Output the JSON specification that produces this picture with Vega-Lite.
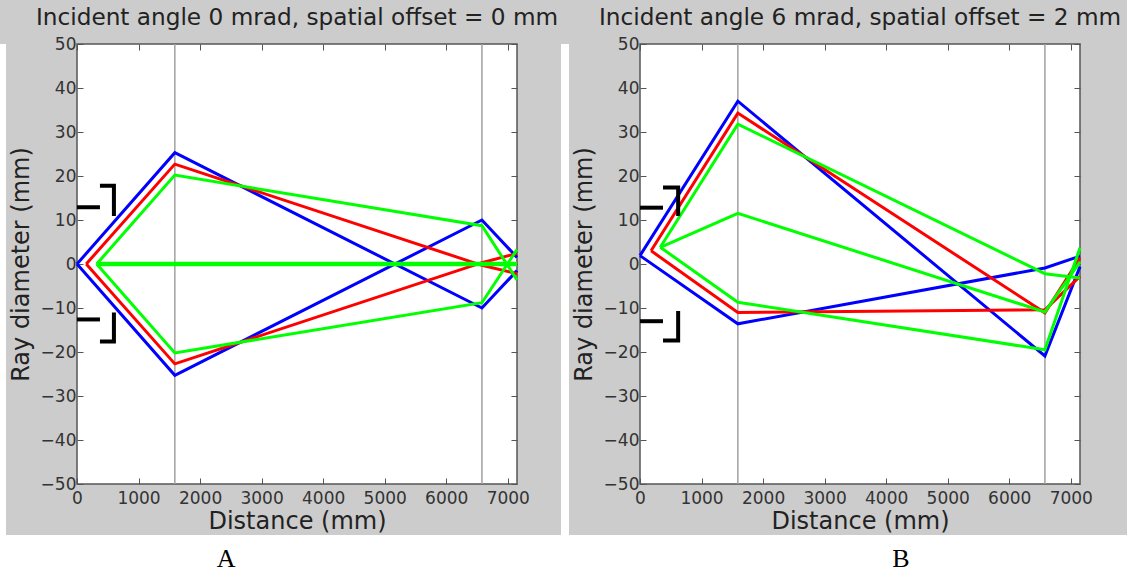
{
  "$schema": "https://vega.github.io/schema/vega-lite/v6.json",
  "background": "#cccccc",
  "padding": {"left": 0, "top": 5, "right": 0, "bottom": 0},
  "config": {
    "font": "DejaVu Sans",
    "axis": {
      "labelFont": "DejaVu Sans",
      "labelFontSize": 17,
      "labelColor": "#333333",
      "titleFont": "DejaVu Sans",
      "titleFontSize": 24,
      "titleFontWeight": "normal",
      "titleColor": "#222222",
      "tickColor": "#555555",
      "tickSize": -6,
      "tickWidth": 1,
      "domain": false,
      "grid": false,
      "labelFlush": false,
      "labelOverlap": false,
      "format": "d"
    },
    "axisLeft": {"labelPadding": 7, "titlePadding": 7},
    "axisBottom": {"labelPadding": 12, "titlePadding": 3},
    "title": {"font": "DejaVu Sans", "fontSize": 23.2, "fontWeight": "normal", "color": "#222222", "anchor": "middle", "frame": "group", "offset": 5}
  },
  "datasets": {
    "lenses": [{"x": 1590}, {"x": 6580}],
    "raysA": [
      {"ray": "blue_up", "color": "blue", "i": 0, "x": 0, "y": 0},
      {"ray": "blue_up", "color": "blue", "i": 1, "x": 1590, "y": 25.3},
      {"ray": "blue_up", "color": "blue", "i": 2, "x": 6580, "y": -10},
      {"ray": "blue_up", "color": "blue", "i": 3, "x": 7150, "y": -1.5},
      {"ray": "blue_dn", "color": "blue", "i": 0, "x": 0, "y": 0},
      {"ray": "blue_dn", "color": "blue", "i": 1, "x": 1590, "y": -25.3},
      {"ray": "blue_dn", "color": "blue", "i": 2, "x": 6580, "y": 10},
      {"ray": "blue_dn", "color": "blue", "i": 3, "x": 7150, "y": 1.5},
      {"ray": "red_up", "color": "red", "i": 0, "x": 150, "y": 0},
      {"ray": "red_up", "color": "red", "i": 1, "x": 1590, "y": 22.7},
      {"ray": "red_up", "color": "red", "i": 2, "x": 6580, "y": -0.3},
      {"ray": "red_up", "color": "red", "i": 3, "x": 7150, "y": -2.2},
      {"ray": "red_dn", "color": "red", "i": 0, "x": 150, "y": 0},
      {"ray": "red_dn", "color": "red", "i": 1, "x": 1590, "y": -22.7},
      {"ray": "red_dn", "color": "red", "i": 2, "x": 6580, "y": 0.3},
      {"ray": "red_dn", "color": "red", "i": 3, "x": 7150, "y": 2.4},
      {"ray": "green_up", "color": "green", "i": 0, "x": 320, "y": 0},
      {"ray": "green_up", "color": "green", "i": 1, "x": 1590, "y": 20.2},
      {"ray": "green_up", "color": "green", "i": 2, "x": 6580, "y": 8.7},
      {"ray": "green_up", "color": "green", "i": 3, "x": 7150, "y": -3.6},
      {"ray": "green_dn", "color": "green", "i": 0, "x": 320, "y": 0},
      {"ray": "green_dn", "color": "green", "i": 1, "x": 1590, "y": -20.2},
      {"ray": "green_dn", "color": "green", "i": 2, "x": 6580, "y": -8.8},
      {"ray": "green_dn", "color": "green", "i": 3, "x": 7150, "y": 3.3}
    ],
    "axialA": [
      {"ray": "green_axis", "i": 0, "x": 320, "y": 0},
      {"ray": "green_axis", "i": 1, "x": 7150, "y": 0}
    ],
    "raysB": [
      {"ray": "blue_up", "color": "blue", "i": 0, "x": 0, "y": 1.9},
      {"ray": "blue_up", "color": "blue", "i": 1, "x": 1590, "y": 37},
      {"ray": "blue_up", "color": "blue", "i": 2, "x": 6580, "y": -20.9},
      {"ray": "blue_up", "color": "blue", "i": 3, "x": 7150, "y": -0.6},
      {"ray": "blue_dn", "color": "blue", "i": 0, "x": 0, "y": 1.9},
      {"ray": "blue_dn", "color": "blue", "i": 1, "x": 1590, "y": -13.6},
      {"ray": "blue_dn", "color": "blue", "i": 2, "x": 6580, "y": -0.9},
      {"ray": "blue_dn", "color": "blue", "i": 3, "x": 7150, "y": 1.8},
      {"ray": "red_up", "color": "red", "i": 0, "x": 180, "y": 3},
      {"ray": "red_up", "color": "red", "i": 1, "x": 1590, "y": 34.3},
      {"ray": "red_up", "color": "red", "i": 2, "x": 6580, "y": -11.1},
      {"ray": "red_up", "color": "red", "i": 3, "x": 7150, "y": 1.4},
      {"ray": "red_dn", "color": "red", "i": 0, "x": 180, "y": 3},
      {"ray": "red_dn", "color": "red", "i": 1, "x": 1590, "y": -11},
      {"ray": "red_dn", "color": "red", "i": 2, "x": 6580, "y": -10.4},
      {"ray": "red_dn", "color": "red", "i": 3, "x": 7150, "y": -2.8},
      {"ray": "green_up", "color": "green", "i": 0, "x": 330, "y": 3.8},
      {"ray": "green_up", "color": "green", "i": 1, "x": 1590, "y": 31.8},
      {"ray": "green_up", "color": "green", "i": 2, "x": 6580, "y": -2.2},
      {"ray": "green_up", "color": "green", "i": 3, "x": 7150, "y": -3.2},
      {"ray": "green_mid", "color": "green", "i": 0, "x": 330, "y": 3.8},
      {"ray": "green_mid", "color": "green", "i": 1, "x": 1590, "y": 11.5},
      {"ray": "green_mid", "color": "green", "i": 2, "x": 6580, "y": -10.9},
      {"ray": "green_mid", "color": "green", "i": 3, "x": 7150, "y": 0.5},
      {"ray": "green_dn", "color": "green", "i": 0, "x": 330, "y": 3.8},
      {"ray": "green_dn", "color": "green", "i": 1, "x": 1590, "y": -8.7},
      {"ray": "green_dn", "color": "green", "i": 2, "x": 6580, "y": -19.5},
      {"ray": "green_dn", "color": "green", "i": 3, "x": 7150, "y": 3.7}
    ],
    "bracketsA": [
      {"part": "dash_up", "i": 0, "x": 0, "y": 12.9},
      {"part": "dash_up", "i": 1, "x": 373, "y": 12.9},
      {"part": "corner_up", "i": 0, "x": 373, "y": 17.8},
      {"part": "corner_up", "i": 1, "x": 600, "y": 17.8},
      {"part": "corner_up", "i": 2, "x": 600, "y": 10.9},
      {"part": "dash_dn", "i": 0, "x": 0, "y": -12.6},
      {"part": "dash_dn", "i": 1, "x": 373, "y": -12.6},
      {"part": "corner_dn", "i": 0, "x": 600, "y": -11},
      {"part": "corner_dn", "i": 1, "x": 600, "y": -17.6},
      {"part": "corner_dn", "i": 2, "x": 373, "y": -17.6}
    ],
    "bracketsB": [
      {"part": "dash_up", "i": 0, "x": 0, "y": 12.8},
      {"part": "dash_up", "i": 1, "x": 374, "y": 12.8},
      {"part": "corner_up", "i": 0, "x": 374, "y": 17.4},
      {"part": "corner_up", "i": 1, "x": 620, "y": 17.4},
      {"part": "corner_up", "i": 2, "x": 620, "y": 10.9},
      {"part": "dash_dn", "i": 0, "x": 0, "y": -13},
      {"part": "dash_dn", "i": 1, "x": 374, "y": -13},
      {"part": "corner_dn", "i": 0, "x": 620, "y": -10.7},
      {"part": "corner_dn", "i": 1, "x": 620, "y": -17.4},
      {"part": "corner_dn", "i": 2, "x": 374, "y": -17.4}
    ],
    "panelLabels": [{"panel": "A"}, {"panel": "B"}]
  },
  "spacing": 0,
  "vconcat": [
    {
      "spacing": 2,
      "hconcat": [
        {
          "width": 6,
          "height": 491,
          "view": {"fill": "white", "stroke": null},
          "data": {"values": [{}]},
          "mark": {"type": "point", "opacity": 0}
        },
        {
          "width": 440,
          "height": 440,
          "view": {"fill": "white", "stroke": "#555555", "strokeWidth": 1.5},
          "title": {"text": "Incident angle 0 mrad, spatial offset = 0 mm"},
          "layer": [
            {
              "data": {"name": "lenses"},
              "mark": {"type": "rule", "color": "#a0a0a0", "strokeWidth": 1.5},
              "encoding": {
                "x": {"field": "x", "type": "quantitative", "scale": {"domain": [0, 7150], "nice": false, "zero": false},
                  "axis": {"orient": "bottom", "values": [0, 1000, 2000, 3000, 4000, 5000, 6000, 7000], "title": "Distance (mm)"}}
              }
            },
            {
              "data": {"name": "raysA"},
              "mark": {"type": "line", "strokeWidth": 3},
              "encoding": {
                "x": {"field": "x", "type": "quantitative", "axis": null},
                "y": {"field": "y", "type": "quantitative", "scale": {"domain": [-50, 50], "nice": false},
                  "axis": {"orient": "left", "values": [-50, -40, -30, -20, -10, 0, 10, 20, 30, 40, 50], "title": "Ray diameter (mm)"}},
                "detail": {"field": "ray"},
                "color": {"field": "color", "type": "nominal", "scale": {"domain": ["blue", "red", "green"], "range": ["#0000ff", "#ff0000", "#00ff00"]}, "legend": null},
                "order": {"field": "i"}
              }
            },
            {
              "data": {"name": "axialA"},
              "mark": {"type": "line", "strokeWidth": 4.5, "color": "#00ff00"},
              "encoding": {
                "x": {"field": "x", "type": "quantitative", "axis": null},
                "y": {"field": "y", "type": "quantitative", "axis": null},
                "order": {"field": "i"}
              }
            },
            {
              "data": {"name": "bracketsA"},
              "mark": {"type": "line", "strokeWidth": 4, "color": "black", "strokeJoin": "miter", "strokeCap": "butt"},
              "encoding": {
                "x": {"field": "x", "type": "quantitative", "axis": null},
                "y": {"field": "y", "type": "quantitative", "axis": null},
                "detail": {"field": "part"},
                "order": {"field": "i"}
              }
            },
            {
              "data": {"name": "lenses"},
              "mark": {"type": "point", "opacity": 0},
              "encoding": {
                "x": {"field": "x", "type": "quantitative", "axis": {"orient": "top", "values": [0, 1000, 2000, 3000, 4000, 5000, 6000, 7000], "labels": false, "title": null}},
                "y": {"datum": 0, "type": "quantitative", "axis": {"orient": "right", "values": [-50, -40, -30, -20, -10, 0, 10, 20, 30, 40, 50], "labels": false, "title": null}}
              }
            }
          ],
          "resolve": {"axis": {"x": "independent", "y": "independent"}}
        },
        {
          "width": 8,
          "height": 491,
          "view": {"fill": "white", "stroke": null},
          "data": {"values": [{}]},
          "mark": {"type": "point", "opacity": 0}
        },
        {
          "width": 440,
          "height": 440,
          "view": {"fill": "white", "stroke": "#555555", "strokeWidth": 1.5},
          "title": {"text": "Incident angle 6 mrad, spatial offset = 2 mm"},
          "layer": [
            {
              "data": {"name": "lenses"},
              "mark": {"type": "rule", "color": "#a0a0a0", "strokeWidth": 1.5},
              "encoding": {
                "x": {"field": "x", "type": "quantitative", "scale": {"domain": [0, 7150], "nice": false, "zero": false},
                  "axis": {"orient": "bottom", "values": [0, 1000, 2000, 3000, 4000, 5000, 6000, 7000], "title": "Distance (mm)"}}
              }
            },
            {
              "data": {"name": "raysB"},
              "mark": {"type": "line", "strokeWidth": 3},
              "encoding": {
                "x": {"field": "x", "type": "quantitative", "axis": null},
                "y": {"field": "y", "type": "quantitative", "scale": {"domain": [-50, 50], "nice": false},
                  "axis": {"orient": "left", "values": [-50, -40, -30, -20, -10, 0, 10, 20, 30, 40, 50], "title": "Ray diameter (mm)"}},
                "detail": {"field": "ray"},
                "color": {"field": "color", "type": "nominal", "scale": {"domain": ["blue", "red", "green"], "range": ["#0000ff", "#ff0000", "#00ff00"]}, "legend": null},
                "order": {"field": "i"}
              }
            },
            {
              "data": {"name": "bracketsB"},
              "mark": {"type": "line", "strokeWidth": 4, "color": "black", "strokeJoin": "miter", "strokeCap": "butt"},
              "encoding": {
                "x": {"field": "x", "type": "quantitative", "axis": null},
                "y": {"field": "y", "type": "quantitative", "axis": null},
                "detail": {"field": "part"},
                "order": {"field": "i"}
              }
            },
            {
              "data": {"name": "lenses"},
              "mark": {"type": "point", "opacity": 0},
              "encoding": {
                "x": {"field": "x", "type": "quantitative", "axis": {"orient": "top", "values": [0, 1000, 2000, 3000, 4000, 5000, 6000, 7000], "labels": false, "title": null}},
                "y": {"datum": 0, "type": "quantitative", "axis": {"orient": "right", "values": [-50, -40, -30, -20, -10, 0, 10, 20, 30, 40, 50], "labels": false, "title": null}}
              }
            }
          ],
          "resolve": {"axis": {"x": "independent", "y": "independent"}}
        }
      ]
    },
    {
      "width": 1127,
      "height": 36,
      "view": {"fill": "white", "stroke": null},
      "data": {"name": "panelLabels"},
      "mark": {"type": "text", "font": "Liberation Serif", "fontSize": 26, "color": "black", "baseline": "alphabetic", "dy": 14},
      "encoding": {
        "x": {"field": "panel", "type": "nominal", "scale": {"type": "point", "padding": 0.335}, "axis": null},
        "text": {"field": "panel"}
      }
    }
  ]
}
